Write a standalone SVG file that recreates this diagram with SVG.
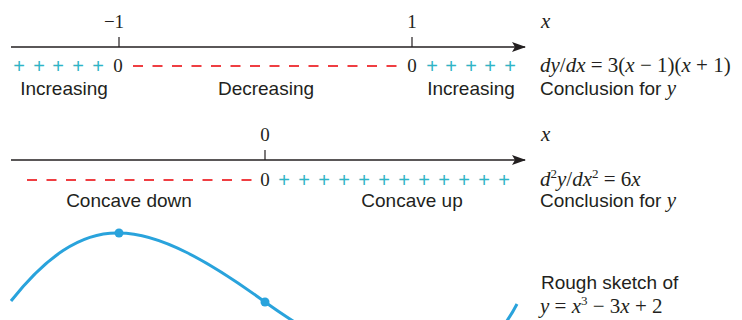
<svg xmlns="http://www.w3.org/2000/svg" width="742" height="320" viewBox="0 0 742 320">
<defs>
<style>
.ax{stroke:#231f20;stroke-width:1.6;fill:none}
.tk{stroke:#231f20;stroke-width:1.2}
.num{font-family:"Liberation Serif",serif;font-size:19px;fill:#231f20;text-anchor:middle}
.math{font-family:"Liberation Serif",serif;font-size:21px;fill:#231f20}
.it{font-style:italic}
.sup{font-size:13px}
.lbl{font-family:"Liberation Sans",Arial,sans-serif;font-size:19px;fill:#231f20}
.mid{text-anchor:middle}
.plus{font-family:"Liberation Sans",Arial,sans-serif;font-size:20px;fill:#2fb4c6;text-anchor:middle}
.dash{stroke:#ef3e42;stroke-width:2;stroke-dasharray:10 9.5;fill:none}
.curve{stroke:#29a3dc;stroke-width:3;fill:none}
.dot{fill:#29a3dc}
</style>
<marker id="arr" markerWidth="14" markerHeight="10" refX="13" refY="5" orient="auto" markerUnits="userSpaceOnUse">
<path d="M0,0 L14,5 L0,10 L3,5 Z" fill="#231f20"/>
</marker>
</defs>

<g id="connectors">
<line class="ax" x1="11" y1="47" x2="525" y2="47" marker-end="url(#arr)"/>
<line class="tk" x1="119" y1="37" x2="119" y2="47"/>
<line class="tk" x1="412" y1="37" x2="412" y2="47"/>
<line class="ax" x1="11" y1="160" x2="525" y2="160" marker-end="url(#arr)"/>
<line class="tk" x1="265" y1="150" x2="265" y2="160"/>
</g>

<g id="axis1">
<text class="num" x="114" y="28">−1</text>
<text class="num" x="412" y="28">1</text>
<text class="math it" x="541" y="28">x</text>
<text class="plus" x="19 39 58 78 98" y="73">+++++</text>
<text class="num" x="118" y="72">0</text>
<line class="dash" x1="133" y1="66" x2="398" y2="66"/>
<text class="num" x="412" y="72">0</text>
<text class="plus" x="432 451 471 490 510" y="73">+++++</text>
<text class="math" x="540" y="72"><tspan class="it">dy</tspan>/<tspan class="it">dx</tspan> = 3(<tspan class="it">x</tspan> − 1)(<tspan class="it">x</tspan> + 1)</text>
<text class="lbl mid" x="64" y="95">Increasing</text>
<text class="lbl mid" x="266" y="95">Decreasing</text>
<text class="lbl mid" x="471" y="95">Increasing</text>
<text class="lbl" x="540" y="95">Conclusion for <tspan font-family="Liberation Serif,serif" font-style="italic" font-size="21">y</tspan></text>
</g>

<g id="axis2">
<text class="num" x="265" y="141">0</text>
<text class="math it" x="541" y="141">x</text>
<line class="dash" x1="27" y1="180" x2="252" y2="180"/>
<text class="num" x="265" y="186">0</text>
<text class="plus" x="284 304 324 344 364 384 404 424 444 464 484 504" y="187">++++++++++++</text>
<text class="math" x="540" y="186"><tspan class="it">d</tspan><tspan class="sup" dy="-8">2</tspan><tspan class="it" dy="8">y</tspan>/<tspan class="it">dx</tspan><tspan class="sup" dy="-8">2</tspan><tspan dy="8"> = 6</tspan><tspan class="it">x</tspan></text>
<text class="lbl mid" x="129" y="207">Concave down</text>
<text class="lbl mid" x="412" y="207">Concave up</text>
<text class="lbl" x="540" y="207">Conclusion for <tspan font-family="Liberation Serif,serif" font-style="italic" font-size="21">y</tspan></text>
</g>

<g id="sketch">
<path class="curve" d="M11,301 C45,258 80,232 119,233 C160,233 210,262 265,302 C300,327 330,345 360,352 M470,352 C490,345 505,327 517,304"/>
<circle class="dot" cx="119" cy="233" r="4.5"/>
<circle class="dot" cx="265" cy="302" r="4.5"/>
<text class="lbl" x="541" y="289">Rough sketch of</text>
<text class="math" x="540" y="313"><tspan class="it">y</tspan> = <tspan class="it">x</tspan><tspan class="sup" dy="-8">3</tspan><tspan dy="8"> − 3</tspan><tspan class="it">x</tspan> + 2</text>
</g>
</svg>
